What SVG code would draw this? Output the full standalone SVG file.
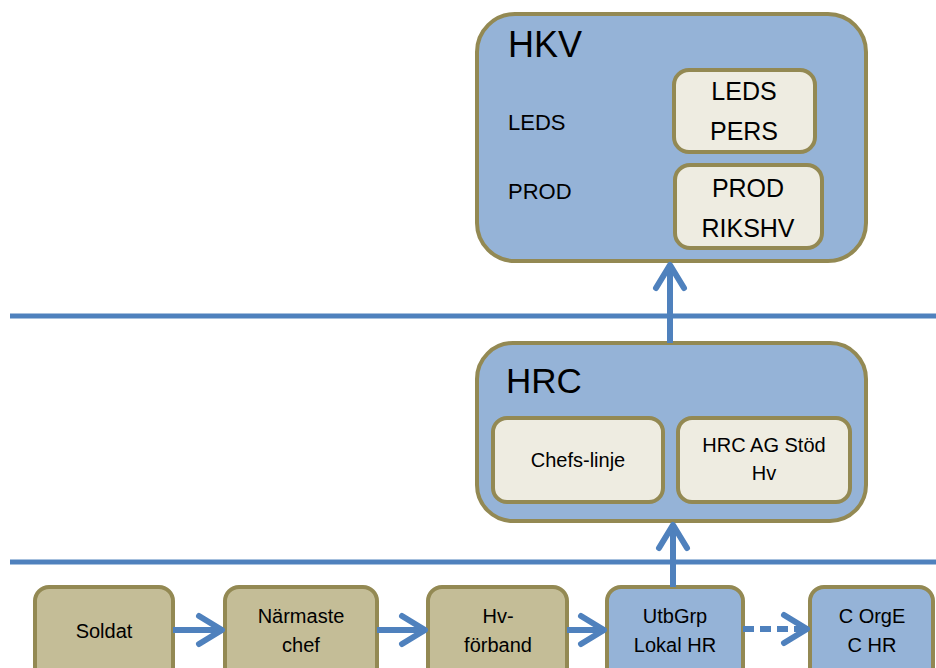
<svg xmlns="http://www.w3.org/2000/svg" width="936" height="668" viewBox="0 0 936 668">
<defs>
<style>
text{font-family:"Liberation Sans",Arial,sans-serif;fill:#000}
.outer{fill:#95B3D7;stroke:#938953;stroke-width:4}
.inner{fill:#EEECE1;stroke:#938953;stroke-width:4}
.tan{fill:#C4BD97;stroke:#938953;stroke-width:4}
.blue{fill:#95B3D7;stroke:#938953;stroke-width:4}
.rule{stroke:#4F81BD;stroke-width:5;fill:none}
.conn{stroke:#4F81BD;stroke-width:6;fill:none}
.c{text-anchor:middle}
</style>
<marker id="ah" markerUnits="userSpaceOnUse" viewBox="0 0 32 36" refX="29" refY="18" markerWidth="32" markerHeight="36" orient="auto">
<path d="M5,4 L28,18 L5,32" fill="none" stroke="#4F81BD" stroke-width="6" stroke-linecap="round" stroke-linejoin="round"/>
</marker>
</defs>
<rect width="936" height="668" fill="#fff"/>
<line class="rule" x1="10" y1="316" x2="936" y2="316"/>
<line class="rule" x1="10" y1="562" x2="936" y2="562"/>

<g id="hkv">
<rect class="outer" x="477" y="14" width="389" height="247" rx="38"/>
<text x="508" y="57" font-size="36">HKV</text>
<text x="508" y="130" font-size="22">LEDS</text>
<text x="508" y="199" font-size="22">PROD</text>
</g>
<g id="leds-pers">
<rect class="inner" x="674" y="70" width="141" height="82" rx="15"/>
<text class="c" x="744" y="100" font-size="25">LEDS</text>
<text class="c" x="744" y="140" font-size="25">PERS</text>
</g>
<g id="prod-rikshv">
<rect class="inner" x="675" y="165" width="147" height="83" rx="15"/>
<text class="c" x="748" y="197" font-size="25">PROD</text>
<text class="c" x="748" y="237" font-size="25">RIKSHV</text>
</g>

<g id="hrc">
<rect class="outer" x="477" y="343" width="389" height="178" rx="36"/>
<text x="506" y="393" font-size="35">HRC</text>
</g>
<g id="chefs-linje">
<rect class="inner" x="493" y="418" width="170" height="84" rx="14"/>
<text class="c" x="578" y="467" font-size="20">Chefs-linje</text>
</g>
<g id="hrc-ag">
<rect class="inner" x="678" y="418" width="172" height="84" rx="14"/>
<text class="c" x="764" y="452" font-size="20">HRC AG Stöd</text>
<text class="c" x="764" y="480" font-size="20">Hv</text>
</g>

<g id="soldat">
<rect class="tan" x="35" y="587" width="138" height="100" rx="14"/>
<text class="c" x="104" y="638" font-size="20">Soldat</text>
</g>
<g id="narmaste">
<rect class="tan" x="225" y="587" width="152" height="100" rx="14"/>
<text class="c" x="301" y="623" font-size="20">Närmaste</text>
<text class="c" x="301" y="652" font-size="20">chef</text>
</g>
<g id="hv-forband">
<rect class="tan" x="428" y="587" width="139" height="100" rx="14"/>
<text class="c" x="498" y="623" font-size="20">Hv-</text>
<text class="c" x="498" y="652" font-size="20">förband</text>
</g>
<g id="utbgrp">
<rect class="blue" x="607" y="587" width="136" height="100" rx="14"/>
<text class="c" x="675" y="623" font-size="20">UtbGrp</text>
<text class="c" x="675" y="652" font-size="20">Lokal HR</text>
</g>
<g id="c-orge">
<rect class="blue" x="810" y="587" width="123" height="100" rx="14"/>
<text class="c" x="872" y="623" font-size="20">C OrgE</text>
<text class="c" x="872" y="652" font-size="20">C HR</text>
</g>

<g id="connectors">
<line class="conn" x1="670" y1="343" x2="670" y2="264" marker-end="url(#ah)"/>
<line class="conn" x1="673" y1="587" x2="673" y2="524" marker-end="url(#ah)"/>
<line class="conn" x1="173" y1="630" x2="223" y2="630" marker-end="url(#ah)"/>
<line class="conn" x1="377" y1="630" x2="426" y2="630" marker-end="url(#ah)"/>
<line class="conn" x1="567" y1="630" x2="605" y2="630" marker-end="url(#ah)"/>
<line class="conn" x1="743" y1="629" x2="808" y2="629" stroke-dasharray="11 6" marker-end="url(#ah)"/>
</g>
</svg>
